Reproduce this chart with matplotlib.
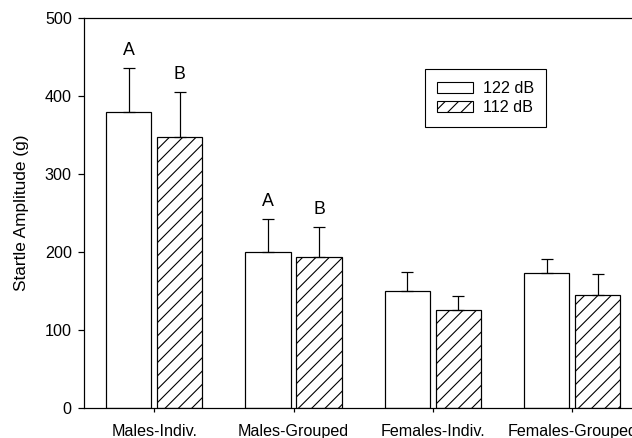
import matplotlib.pyplot as plt
import matplotlib.patches as mpatches
import numpy as np

# saved at 80 dpi so the single-slash hatch spacing matches the scan
plt.rcParams['font.family'] = ['Liberation Sans', 'DejaVu Sans']
plt.rcParams['hatch.linewidth'] = 1.0

groups = ["Males-Indiv.", "Males-Grouped", "Females-Indiv.", "Females-Grouped"]
loud = [379, 200, 150, 173]          # 122 dB
loud_err = [57, 42, 24, 18]
soft = [347, 193, 126, 145]          # 112 dB
soft_err = [58, 39, 18, 27]
letters_loud = ["A", "A", "", ""]
letters_soft = ["B", "B", "", ""]

fig = plt.figure(figsize=(632 / 80, 438 / 80), dpi=80)
ax = fig.add_axes([0.1329, 0.0685, 0.8671, 0.8904])

x = np.arange(len(groups))
w = 0.324
off = 0.183
lw = 1.1

ax.bar(x - off, loud, w, color="white", edgecolor="black", linewidth=lw)
ax.bar(x + off, soft, w, color="white", edgecolor="black", linewidth=lw, hatch="//")
ax.errorbar(x - off, loud, yerr=[np.zeros(4), loud_err], fmt="none",
            ecolor="black", elinewidth=lw, capsize=5, capthick=lw)
ax.errorbar(x + off, soft, yerr=[np.zeros(4), soft_err], fmt="none",
            ecolor="black", elinewidth=lw, capsize=5, capthick=lw)

for i in range(len(groups)):
    if letters_loud[i]:
        ax.text(x[i] - off, loud[i] + loud_err[i] + 12, letters_loud[i],
                ha="center", va="bottom", fontsize=16)
    if letters_soft[i]:
        ax.text(x[i] + off, soft[i] + soft_err[i] + 12, letters_soft[i],
                ha="center", va="bottom", fontsize=16)

ax.set_xlim(-0.504, 3.43)
ax.set_ylim(0, 500)
ax.set_yticks([0, 100, 200, 300, 400, 500])
ax.set_xticks(x)
ax.set_xticklabels(groups, fontsize=14.5)
ax.tick_params(axis="y", labelsize=14.5, length=5, width=lw, pad=6)
ax.tick_params(axis="x", length=4, width=lw, pad=10)
ax.set_ylabel("Startle Amplitude (g)", fontsize=15.5, labelpad=14)
ax.spines["right"].set_visible(False)
for s in ["left", "top", "bottom"]:
    ax.spines[s].set_linewidth(lw)

handles = [mpatches.Patch(facecolor="white", edgecolor="black", linewidth=1.0, label="122 dB"),
           mpatches.Patch(facecolor="white", edgecolor="black", linewidth=1.0, hatch="//", label="112 dB")]
leg = ax.legend(handles=handles, loc="upper left", bbox_to_anchor=(0.622, 0.869),
                borderaxespad=0, fontsize=14.5, fancybox=False, edgecolor="black",
                framealpha=1, handlelength=2.25, handleheight=0.72, labelspacing=0.25,
                borderpad=0.75, handletextpad=0.6)
leg.get_frame().set_linewidth(1.0)

fig.savefig("out.png", dpi=80)
